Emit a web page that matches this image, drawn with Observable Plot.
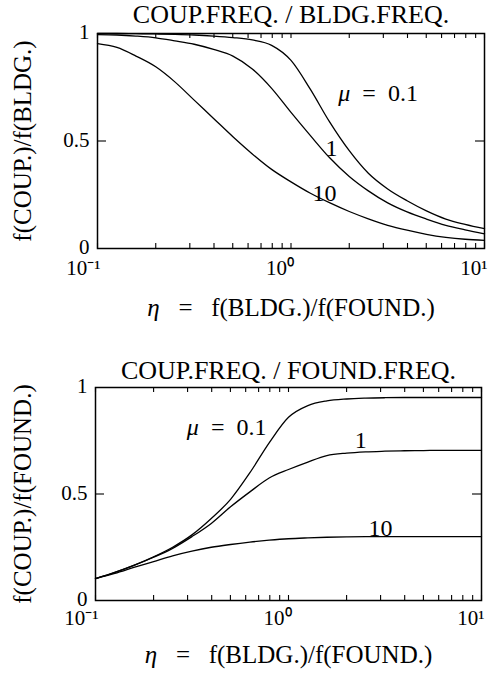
<!DOCTYPE html>
<html>
<head>
<meta charset="utf-8">
<script src="https://cdn.jsdelivr.net/npm/d3@7"></script>
<script src="https://cdn.jsdelivr.net/npm/@observablehq/plot@0.6"></script>
<style>
  html, body { margin: 0; padding: 0; background: #fff; }
  #chart { width: 490px; height: 674px; }
  #chart svg { display: block; }
</style>
</head>
<body>
<div id="chart"></div>
<script>
// Frequency ratio eta = f(BLDG.)/f(FOUND.) at which the curves are sampled
const eta = [0.1, 0.126, 0.158, 0.2, 0.251, 0.316, 0.398, 0.501, 0.631, 0.794, 1, 1.26, 1.58, 2, 2.51, 3.16, 3.98, 5.01, 6.31, 7.94, 10];
const muLevels = ["0.1", "1", "10"];

// Coupled frequency / building frequency, one series per mass ratio mu
const bldgMu01 = [1.000, 1.000, 0.999, 0.998, 0.996, 0.993, 0.988, 0.981, 0.970, 0.945, 0.875, 0.740, 0.590, 0.455, 0.350, 0.277, 0.222, 0.175, 0.137, 0.112, 0.092];
const bldgMu1  = [0.995, 0.993, 0.988, 0.980, 0.966, 0.950, 0.926, 0.895, 0.835, 0.745, 0.633, 0.525, 0.423, 0.335, 0.268, 0.212, 0.170, 0.137, 0.108, 0.087, 0.068];
const bldgMu10 = [0.953, 0.935, 0.895, 0.845, 0.775, 0.690, 0.605, 0.520, 0.440, 0.368, 0.310, 0.257, 0.213, 0.172, 0.138, 0.108, 0.085, 0.066, 0.052, 0.043, 0.038];

// Coupled frequency / foundation frequency
const foundMu01 = [0.103, 0.132, 0.165, 0.205, 0.250, 0.308, 0.385, 0.475, 0.600, 0.740, 0.860, 0.915, 0.937, 0.946, 0.950, 0.952, 0.953, 0.953, 0.953, 0.953, 0.953];
const foundMu1  = [0.103, 0.132, 0.165, 0.203, 0.245, 0.300, 0.362, 0.440, 0.510, 0.575, 0.615, 0.650, 0.680, 0.692, 0.698, 0.701, 0.703, 0.704, 0.705, 0.705, 0.705];
const foundMu10 = [0.103, 0.127, 0.155, 0.183, 0.210, 0.232, 0.250, 0.263, 0.274, 0.283, 0.290, 0.294, 0.297, 0.299, 0.300, 0.300, 0.300, 0.300, 0.300, 0.300, 0.300];

// Axis ticks and their labels
const xMajorTicks = [0.1, 1, 10];
const xTickLabels = ["10⁻¹", "10⁰", "10¹"];
const xMinorTicks = [0.2, 0.3, 0.4, 0.5, 0.6, 0.7, 0.8, 0.9, 2, 3, 4, 5, 6, 7, 8, 9];
const yTicks = [0, 0.5, 1];
const yTickLabels = ["0", "0.5", "1"];

// Curve annotations: text, and the (eta, value) point each is centred on
const curveLabelText = ["μ\u2002=\u20020.1", "1", "10"];
const bldgLabelEta = [2.82, 1.62, 1.49];
const bldgLabelValue = [0.688, 0.428, 0.223];
const foundLabelEta = [0.478, 2.37, 3.0];
const foundLabelValue = [0.775, 0.718, 0.305];

const xTitle = "η \u2002= \u2002f(BLDG.)/f(FOUND.)";
const serif = "'Liberation Serif', 'Times New Roman', serif";

function seriesRows(seriesList) {
  const rows = [];
  seriesList.forEach((values, k) => {
    values.forEach((v, i) => rows.push({eta: eta[i], value: v, mu: muLevels[k]}));
  });
  return rows;
}

function labelRows(etas, values) {
  return curveLabelText.map((t, i) => ({text: t, eta: etas[i], value: values[i]}));
}

function panel({rows, labels, title, yTitle, margin}) {
  const width = 490, height = 337;
  const frameW = width - margin.left - margin.right;
  const frameH = height - margin.top - margin.bottom;
  const allX = xMajorTicks.concat(xMinorTicks);
  return Plot.plot({
    width, height,
    marginLeft: margin.left, marginRight: margin.right,
    marginTop: margin.top, marginBottom: margin.bottom,
    style: {fontFamily: serif, color: "#000", background: "#fff"},
    x: {type: "log", domain: [0.1, 10], axis: null},
    y: {domain: [0, 1], axis: null},
    marks: [
      // inward ticks on bottom and top edges
      Plot.tickX(allX, {x: d => d, insetTop: frameH - 5, strokeWidth: 1.1}),
      Plot.tickX(allX, {x: d => d, insetBottom: frameH - 5, strokeWidth: 1.1}),
      // inward ticks on left and right edges
      Plot.tickY([0.5], {y: d => d, insetRight: frameW - 9, strokeWidth: 1.1}),
      Plot.tickY([0.5], {y: d => d, insetLeft: frameW - 9, strokeWidth: 1.1}),
      Plot.frame({strokeWidth: 1.5}),
      Plot.line(rows, {x: "eta", y: "value", z: "mu", curve: "monotone-x", strokeWidth: 1.3}),
      Plot.text(labels, {x: "eta", y: "value", text: "text", textAnchor: "middle", lineAnchor: "bottom", fontSize: 24, fontFamily: serif}),
      // tick labels
      Plot.text(xMajorTicks, {x: d => d, text: (d, i) => xTickLabels[i], frameAnchor: "bottom", textAnchor: "end", lineAnchor: "bottom", dx: 3, dy: margin.tickDy, fontSize: 21, fontFamily: serif}),
      Plot.text(yTicks, {y: d => d, text: (d, i) => yTickLabels[i], frameAnchor: "left", textAnchor: "end", lineAnchor: "middle", dx: -8, dy: -1, fontSize: 21, fontFamily: serif}),
      // titles
      Plot.text([title], {text: d => d, frameAnchor: "top", textAnchor: "middle", lineAnchor: "bottom", dy: margin.titleDy, fontSize: 26, fontFamily: serif}),
      Plot.text([xTitle], {text: d => d, frameAnchor: "bottom", textAnchor: "middle", lineAnchor: "bottom", dy: margin.xTitleDy, fontSize: 25, fontFamily: serif}),
      Plot.text([yTitle], {text: d => d, frameAnchor: "left", textAnchor: "middle", lineAnchor: "middle", rotate: -90, dx: margin.yTitleDx, fontSize: 25, fontFamily: serif})
    ]
  });
}

// Set Greek symbols in italic, as in math notation
function italicizeGreek(svg) {
  d3.select(svg).selectAll("text").each(function () {
    if (this.childElementCount) return;
    const m = /^([μη])(.*)$/.exec(this.textContent);
    if (!m) return;
    const sel = d3.select(this);
    sel.text(null);
    sel.append("tspan").attr("font-style", "italic").text(m[1]);
    sel.append("tspan").text(m[2]);
  });
}

const bldgPanel = panel({
  rows: seriesRows([bldgMu01, bldgMu1, bldgMu10]),
  labels: labelRows(bldgLabelEta, bldgLabelValue),
  title: "COUP.FREQ. / BLDG.FREQ.",
  yTitle: "f(COUP.)/f(BLDG.)",
  margin: {left: 97, right: 6, top: 33, bottom: 89, tickDy: 26, titleDy: -11, xTitleDy: 67, yTitleDx: -75}
});
const foundPanel = panel({
  rows: seriesRows([foundMu01, foundMu1, foundMu10]),
  labels: labelRows(foundLabelEta, foundLabelValue),
  title: "COUP.FREQ. / FOUND.FREQ.",
  yTitle: "f(COUP.)/f(FOUND.)",
  margin: {left: 95, right: 9, top: 50, bottom: 74, tickDy: 24, titleDy: -9, xTitleDy: 62, yTitleDx: -73}
});
italicizeGreek(bldgPanel);
italicizeGreek(foundPanel);
document.getElementById("chart").append(bldgPanel, foundPanel);
</script>
</body>
</html>
